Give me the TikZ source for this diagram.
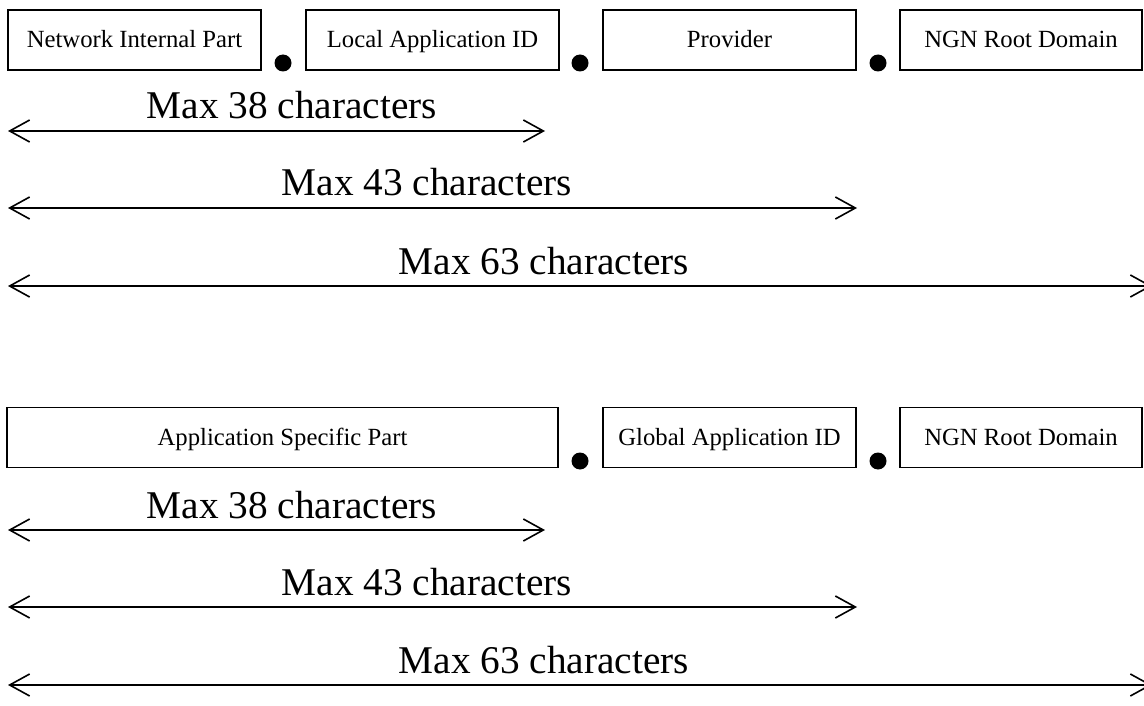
\documentclass[tikz,border=0pt]{standalone}
\usepackage{fontspec}
\setmainfont{Liberation Serif}
\usetikzlibrary{arrows.meta}
\tikzset{
  field/.style={draw, line width=1.5pt, minimum height=60pt, inner sep=0pt,
    text height=16pt, text depth=0pt, font=\fontsize{24.7}{28}\selectfont},
  sepdot/.style={circle, fill, inner sep=0pt, minimum size=17pt},
  span/.style={line width=1.6pt,
    {Straight Barb[length=20pt,width=22pt]}-{Straight Barb[length=20pt,width=22pt]}},
  spanlabel/.style={anchor=base, font=\fontsize{39.3}{44}\selectfont}
}
\begin{document}
\begin{tikzpicture}[x=1pt,y=-1pt]
  \useasboundingbox (0,0) rectangle (1144,706);
  % first form
  \node[field, minimum width=253pt] (nip) at (134.5,40) {Network Internal Part};
  \node[field, minimum width=253pt] (lai) at (432.5,40) {Local Application ID};
  \node[field, minimum width=253pt] (prv) at (729.5,40) {Provider};
  \node[field, minimum width=242pt] (ngna) at (1021,40) {NGN Root Domain};
  \node[sepdot] (d1) at (283,63) {};
  \node[sepdot] (d2) at (580,63) {};
  \node[sepdot] (d3) at (878,63) {};
  \coordinate (a0) at (8,131);   \coordinate (a1) at (545,131);
  \coordinate (b0) at (8,208);   \coordinate (b1) at (857,208);
  \coordinate (c0) at (8,286);   \coordinate (c1) at (1152,286);
  \draw[span] (a0) -- (a1);
  \draw[span] (b0) -- (b1);
  \draw[span] (c0) -- (c1);
  \node[spanlabel] (la) at (292,119) {Max 38 characters};
  \node[spanlabel] (lb) at (427,196) {Max 43 characters};
  \node[spanlabel] (lc) at (544,274) {Max 63 characters};
  % second form
  \node[field, minimum width=551pt] (asp) at (282.5,437.5) {Application Specific Part};
  \node[field, minimum width=253pt] (gai) at (729.5,437.5) {Global Application ID};
  \node[field, minimum width=242pt] (ngnb) at (1021,437.5) {NGN Root Domain};
  \node[sepdot] (d4) at (580,461) {};
  \node[sepdot] (d5) at (878,461) {};
  \coordinate (e0) at (8,530);   \coordinate (e1) at (545,530);
  \coordinate (f0) at (8,607);   \coordinate (f1) at (857,607);
  \coordinate (g0) at (8,685);   \coordinate (g1) at (1152,685);
  \draw[span] (e0) -- (e1);
  \draw[span] (f0) -- (f1);
  \draw[span] (g0) -- (g1);
  \node[spanlabel] (le) at (292,518) {Max 38 characters};
  \node[spanlabel] (lf) at (427,595) {Max 43 characters};
  \node[spanlabel] (lg) at (544,673) {Max 63 characters};
\end{tikzpicture}
\end{document}
